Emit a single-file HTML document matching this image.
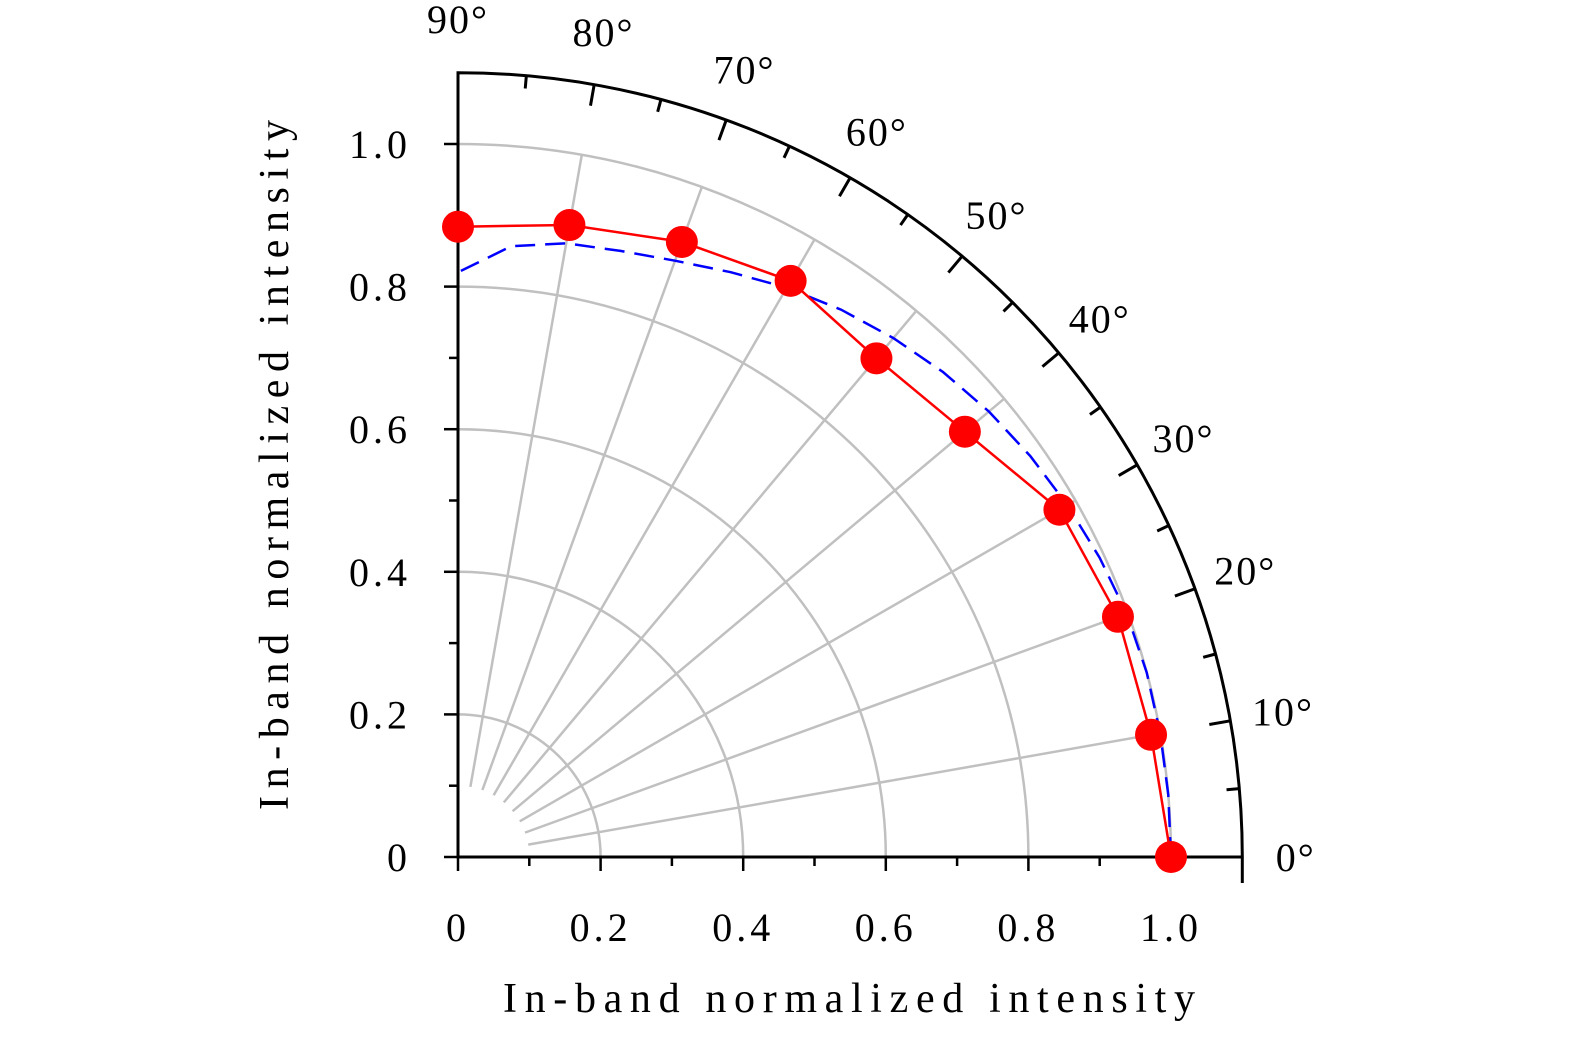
<!DOCTYPE html>
<html><head><meta charset="utf-8"><style>
html,body{margin:0;padding:0;background:#fff}
svg{display:block;font-family:"Liberation Serif",serif}
</style></head><body>
<svg id="chart" width="1575" height="1043" viewBox="0 0 1575 1043" xmlns="http://www.w3.org/2000/svg">
<g id="grid"></g>
<g id="axes"></g>
<g id="series"></g>
<text x="503" y="1012" font-size="42" textLength="692" lengthAdjust="spacing">In-band normalized intensity</text>
<text transform="translate(288,810) rotate(-90)" font-size="42" textLength="690" lengthAdjust="spacing">In-band normalized intensity</text>
</svg>
<script>
const radialTicks = [0, 0.2, 0.4, 0.6, 0.8, 1.0];
const radialTickLabels = ["0", "0.2", "0.4", "0.6", "0.8", "1.0"];
const angleTicks = [0, 10, 20, 30, 40, 50, 60, 70, 80, 90];
const measuredAngles = [0, 10, 20, 30, 40, 50, 60, 70, 80, 90];
const measuredValues = [1.0, 0.987, 0.985, 0.974, 0.928, 0.913, 0.933, 0.918, 0.90, 0.884];
const fitAngles = [0, 5, 10, 15, 20, 25, 30, 35, 40, 45, 50, 55, 60, 65, 70, 75, 80, 85, 90];
const fitValues = [1.0, 1.0, 1.0, 1.0, 0.998, 0.993, 0.987, 0.98, 0.972, 0.962, 0.95, 0.937, 0.922, 0.905, 0.89, 0.88, 0.874, 0.86, 0.82];

const NS = "http://www.w3.org/2000/svg";
const ox = 458, oy = 857, sc = 713, rMax = 1.1;
function px(r, a){ return ox + r*sc*Math.cos(a*Math.PI/180); }
function py(r, a){ return oy - r*sc*Math.sin(a*Math.PI/180); }
function mk(parent, tag, attrs){ const e=document.createElementNS(NS,tag); for(const k in attrs) e.setAttribute(k,attrs[k]); parent.appendChild(e); return e; }
const grid=document.getElementById('grid'), axes=document.getElementById('axes'), series=document.getElementById('series');

radialTicks.forEach(r=>{ if(r===0) return;
  const e=mk(grid,'path',{d:`M${px(r,0)},${py(r,0)} A${r*sc},${r*sc} 0 0 0 ${px(r,90)},${py(r,90)}`,fill:'none',stroke:'#c0c0c0','stroke-width':2.5});
  
  
});
angleTicks.forEach(a=>{
  const e=mk(grid,'line',{x1:px(0.1,a),y1:py(0.1,a),x2:px(1.0,a),y2:py(1.0,a),stroke:'#c0c0c0','stroke-width':2.5});
  
  
});
mk(axes,'path',{d:`M${px(rMax,0)},${oy+26} L${px(rMax,0)},${oy} L${ox},${oy} L${ox},${py(rMax,90)} A${rMax*sc},${rMax*sc} 0 0 1 ${px(rMax,0)},${py(rMax,0)}`,fill:'none',stroke:'#000','stroke-width':3});
for(let i=0;i<=10;i++){ const v=i/10;
  const len = i%2===0 ? 14 : 9;
  let e=mk(axes,'line',{x1:px(v,0),y1:oy,x2:px(v,0),y2:oy+len,stroke:'#000','stroke-width':2.5});
   
  e=mk(axes,'line',{x1:ox,y1:py(v,90),x2:ox-len,y2:py(v,90),stroke:'#000','stroke-width':2.5});
   
}
radialTicks.forEach((v,i)=>{
  let t=mk(axes,'text',{x:px(v,0),y:oy+84,'font-size':40,'text-anchor':'middle','letter-spacing':4}); t.textContent=radialTickLabels[i];
   
  t=mk(axes,'text',{x:411,y:py(v,90)+14,'font-size':40,'text-anchor':'end','letter-spacing':4}); t.textContent=radialTickLabels[i];
   
});
for(let a=0;a<=90;a+=5){
  const len = a%10===0 ? 0.03 : 0.018;
  const e=mk(axes,'line',{x1:px(rMax,a),y1:py(rMax,a),x2:px(rMax-len,a),y2:py(rMax-len,a),stroke:'#000','stroke-width':3});
   
}
angleTicks.forEach(a=>{
  const r=1.175;
  const t=mk(axes,'text',{x:px(r,a),y:py(r,a)+14,'font-size':40,'text-anchor':'middle','letter-spacing':2}); t.textContent=a+'°';
   
});
let d=fitAngles.map((a,i)=>(i?'L':'M')+px(fitValues[i],a).toFixed(1)+','+py(fitValues[i],a).toFixed(1)).join(' ');
let fl=mk(series,'path',{d:d,fill:'none',stroke:'#0000ff','stroke-width':2.5,'stroke-dasharray':'20,10'});
 
d=measuredAngles.map((a,i)=>(i?'L':'M')+px(measuredValues[i],a).toFixed(1)+','+py(measuredValues[i],a).toFixed(1)).join(' ');
let ml=mk(series,'path',{d:d,fill:'none',stroke:'#ff0000','stroke-width':2.5});
 
measuredAngles.forEach((a,i)=>{
  const c=mk(series,'circle',{cx:px(measuredValues[i],a),cy:py(measuredValues[i],a),r:16,fill:'#ff0000'});
   
});
</script>
</body></html>
